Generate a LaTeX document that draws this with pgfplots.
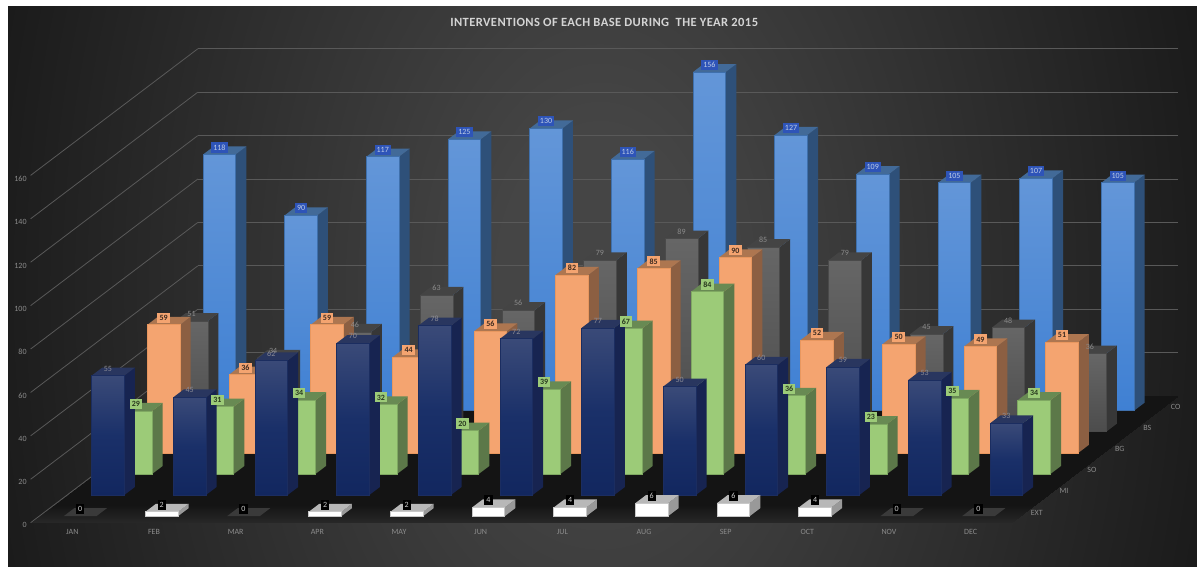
\documentclass[border=0pt]{standalone}
\usepackage{fontspec}
\setmainfont{Carlito}
\newfontfamily\titlefont[LetterSpace=3.2]{Carlito}
\usepackage{pgfplots}
\usepackage{pgfplotstable}
\pgfplotsset{compat=1.18}
\usepgfplotslibrary{patchplots}

% interventions per month, one column per base
\pgfplotstableread{
month EXT MI SO BG BS CO
JAN 0 55 29 59 51 118
FEB 2 45 31 36 34 90
MAR 0 62 34 59 46 117
APR 2 70 32 44 63 125
MAY 2 78 20 56 56 130
JUN 4 72 39 82 79 116
JUL 4 77 67 85 89 156
AUG 6 50 84 90 85 127
SEP 6 60 36 52 79 109
OCT 4 59 23 50 45 105
NOV 0 53 35 49 48 107
DEC 0 33 34 51 36 105
}\basedata

\definecolor{topCO}{HTML}{426A98}\definecolor{edgeCO}{HTML}{3F70AC}\definecolor{sideCO}{HTML}{2E5079}
\definecolor{topBS}{HTML}{444444}\definecolor{edgeBS}{HTML}{4A4A4A}\definecolor{sideBS}{HTML}{373737}
\definecolor{topBG}{HTML}{AD7650}\definecolor{edgeBG}{HTML}{E8975F}\definecolor{sideBG}{HTML}{8C5F42}
\definecolor{topSO}{HTML}{688A53}\definecolor{edgeSO}{HTML}{7FA862}\definecolor{sideSO}{HTML}{5C7849}
\definecolor{topMI}{HTML}{29365F}\definecolor{edgeMI}{HTML}{1B2D60}\definecolor{sideMI}{HTML}{172451}
\definecolor{topEXT}{HTML}{B8B8B8}\definecolor{edgeEXT}{HTML}{C8C8C8}\definecolor{sideEXT}{HTML}{999999}
\definecolor{zeroEXT}{HTML}{3A3A3A}
\definecolor{bgin}{HTML}{454545}
\definecolor{bgout}{HTML}{1A1A1A}
\definecolor{boxCO}{HTML}{2E54B8}\definecolor{txtCO}{HTML}{BECCE6}
\definecolor{boxBG}{HTML}{F4A470}\definecolor{txtBG}{HTML}{3C2A20}
\definecolor{boxSO}{HTML}{9CCB78}\definecolor{txtSO}{HTML}{28381E}
\definecolor{txtBS}{HTML}{8C8C8C}\definecolor{txtMI}{HTML}{8C8C96}
\definecolor{txtEXT}{HTML}{CDCDCD}

\pgfplotsset{
  colormap={frontCO}{rgb255=(63,128,211) rgb255=(99,150,216)},
  colormap={frontBS}{rgb255=(76,76,76) rgb255=(102,102,102)},
  colormap={frontBG}{rgb255=(244,164,112) rgb255=(244,164,112)},
  colormap={frontSO}{rgb255=(156,203,120) rgb255=(156,203,120)},
  colormap={frontMI}{rgb255=(18,39,95) rgb255=(26,48,105) rgb255=(58,74,120)},
  colormap={frontEXT}{rgb255=(255,255,255) rgb255=(255,255,255)},
  colormap={floorshade}{rgb255=(40,40,40) rgb255=(20,20,20) rgb255=(20,20,20) rgb255=(20,20,20)
     rgb255=(20,20,20) rgb255=(20,20,20) rgb255=(20,20,20) rgb255=(20,20,20)},
  gradface/.style={patch, patch type=rectangle, shader=interp, point meta=explicit,
     point meta min=0, point meta max=1, forget plot},
}
\tikzset{
  lbl/.style={font=\fontsize{6}{6}\selectfont, inner xsep=1.6pt, inner ysep=0pt,
     minimum height=7.6pt, yshift=5.3pt},
  lblCO/.style={lbl, fill=boxCO, text=txtCO},
  lblBS/.style={lbl, text=txtBS},
  lblBG/.style={lbl, fill=boxBG, text=txtBG, font=\fontsize{6}{6}\selectfont\bfseries},
  lblSO/.style={lbl, fill=boxSO, text=txtSO, font=\fontsize{6}{6}\selectfont\bfseries},
  lblMI/.style={lbl, text=txtMI},
  lblEXT/.style={lbl, fill=black, text=txtEXT},
}

% one row of cuboids: #1 column name, #2 depth index
\newcommand\baserow[2]{%
  \pgfplotsforeachungrouped \m in {0,...,11}{%
    \pgfplotstablegetelem{\m}{#1}\of\basedata
    \let\v\pgfplotsretval
    \pgfmathsetmacro\xa{\m+0.3}\pgfmathsetmacro\xb{\m+0.7}%
    \pgfmathsetmacro\ya{#2+0.31}\pgfmathsetmacro\yb{#2+0.69}%
    \ifdim\v pt>0pt
      \edef\cmd{%
        \noexpand\addplot3[forget plot, draw=none, fill=side#1] coordinates
          {(\xb,\ya,0) (\xb,\yb,0) (\xb,\yb,\v) (\xb,\ya,\v)} --cycle;
        \noexpand\addplot3[forget plot, draw=none, fill=top#1] coordinates
          {(\xa,\ya,\v) (\xb,\ya,\v) (\xb,\yb,\v) (\xa,\yb,\v)} --cycle;
        \noexpand\addplot3[gradface, colormap name=front#1] coordinates
          {(\xa,\ya,0)[0] (\xb,\ya,0)[0] (\xb,\ya,\v)[1] (\xa,\ya,\v)[1]};
        \noexpand\addplot3[forget plot, draw=edge#1, line width=0.5pt] coordinates
          {(\xa,\ya,0) (\xb,\ya,0) (\xb,\ya,\v) (\xa,\ya,\v)} --cycle;
      }\cmd
    \else
      \edef\cmd{%
        \noexpand\addplot3[forget plot, draw=none, fill=zeroEXT] coordinates
          {(\xa,\ya,0) (\xb,\ya,0) (\xb,\yb,0) (\xa,\yb,0)} --cycle;
      }\cmd
    \fi
  }%
}
% value labels of one row
\newcommand\baselabels[2]{%
  \pgfplotsforeachungrouped \m in {0,...,11}{%
    \pgfplotstablegetelem{\m}{#1}\of\basedata
    \let\v\pgfplotsretval
    \pgfmathsetmacro\xc{\m+0.5}\pgfmathsetmacro\ya{#2+0.31}%
    \edef\cmd{\noexpand\node[lbl#1] at (axis cs:\xc,\ya,\v) {\v};}\cmd
  }%
}

\pgfdeclareradialshading{plotbg}{\pgfpoint{0bp}{0bp}}{%
  color(0bp)=(bgin); color(4bp)=(bgin); color(25bp)=(bgout); color(50bp)=(bgout)}

\begin{document}
\begin{tikzpicture}[x=0.75pt,y=0.75pt]
  \path[use as bounding box] (0,0) rectangle (1197,567);
  \fill[white] (0,0) rectangle (1197,567);
  \begin{scope}
    \clip (8,0) rectangle (1197,560);
    \shade[shading=plotbg] (-30,-700) rectangle (1230,1260);
  \end{scope}
  \begin{axis}[
    anchor=south west, at={(22.95pt,33.225pt)},
    x={(61.25pt,0pt)}, y={(20.9pt,15.825pt)}, z={(0pt,1.628pt)},
    xmin=0, xmax=12, ymin=0, ymax=6, zmin=0, zmax=160,
    clip=false,
    axis line style={draw=none}, tick style={draw=none},
    zmajorgrids=true,
    grid style={draw=gray!70!black, line width=0.6pt},
    ztick={0,20,...,160},
    xtick={0.5,1.5,...,11.5},
    xticklabels={JAN,FEB,MAR,APR,MAY,JUN,JUL,AUG,SEP,OCT,NOV,DEC},
    ytick={0.5,1.5,...,5.5},
    yticklabels={EXT,MI,SO,BG,BS,CO},
    /pgf/number format/assume math mode=true,
    tick label style={font=\fontsize{6}{7}\selectfont, text=txtBS},
    xticklabel style={xshift=3.4pt, yshift=-1.5pt},
    yticklabel style={xshift=2.6pt, yshift=6pt},
    zticklabel style={xshift=0.5pt},
    title={\titlefont\bfseries INTERVENTIONS OF EACH BASE DURING\ \ THE YEAR 2015},
    title style={at={(axis description cs:0.5,1.038)}, anchor=center,
      font=\fontsize{9.4}{11}\selectfont, text=white!83!black},
  ]
    % floor
    \addplot3[gradface, colormap name=floorshade] coordinates
      {(0,0,0)[0] (12,0,0)[0] (12,6,0)[1] (0,6,0)[1]};
    % rows are painted from the back to the front
    \baserow{CO}{5}
    \baserow{BS}{4}
    \baserow{BG}{3}
    \baserow{SO}{2}
    \baserow{MI}{1}
    \baserow{EXT}{0}
    \baselabels{CO}{5}
    \baselabels{BS}{4}
    \baselabels{BG}{3}
    \baselabels{SO}{2}
    \baselabels{MI}{1}
    \baselabels{EXT}{0}
  \end{axis}
\end{tikzpicture}
\end{document}
